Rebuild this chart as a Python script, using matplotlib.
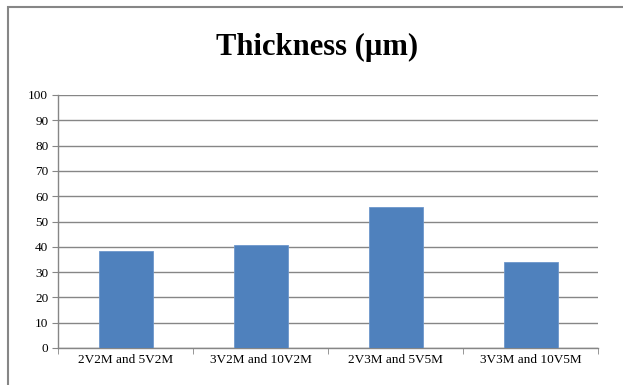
import matplotlib.pyplot as plt
from matplotlib.patches import Rectangle

# sample pairs and measured thickness
samples = ["2V2M and 5V2M", "3V2M and 10V2M", "2V3M and 5V5M", "3V3M and 10V5M"]
thickness = [38.5, 40.8, 55.6, 33.9]
y_ticks = list(range(0, 101, 10))

plt.rcParams['font.family'] = ['Liberation Serif', 'DejaVu Serif']

W, H = 623, 385
fig = plt.figure(figsize=(W / 100, H / 100), dpi=100)

# outer chart border (runs off the right and bottom edges)
fig.patches.append(Rectangle((8 / W, -0.2), 1.2, 1.2 - 7 / H, transform=fig.transFigure,
                             fill=False, edgecolor="#868686", linewidth=1.5))

ax = fig.add_axes([58 / W, 1 - 348 / H, (598 - 58) / W, (348 - 95) / H])
x = range(len(samples))
ax.bar(x, thickness, width=0.4, color="#4F81BD", edgecolor="#6D97CC", linewidth=0.6, zorder=3)

ax.set_ylim(0, 100)
ax.set_xlim(-0.5, len(samples) - 0.5)
ax.set_yticks(y_ticks)
ax.set_yticklabels([str(t) for t in y_ticks], fontsize=9.5)
ax.yaxis.grid(True, color="#868686", linewidth=1.0)
ax.set_axisbelow(True)

ax.set_xticks(list(x))
ax.set_xticklabels(samples, fontsize=9.5)
ax.tick_params(axis="x", length=0, pad=4)
ax.set_xticks([i - 0.5 for i in range(len(samples) + 1)], minor=True)
ax.tick_params(axis="x", which="minor", length=4, color="#868686")
ax.tick_params(axis="y", length=4, color="#868686", pad=3)

for s in ["top", "right"]:
    ax.spines[s].set_visible(False)
for s in ["left", "bottom"]:
    ax.spines[s].set_color("#868686")
    ax.spines[s].set_linewidth(1.0)

fig.text(317 / W, 1 - 47 / H, "Thickness (µm)", ha="center", va="center",
         fontsize=22, fontweight="bold")

fig.savefig("out.png", dpi=100)
